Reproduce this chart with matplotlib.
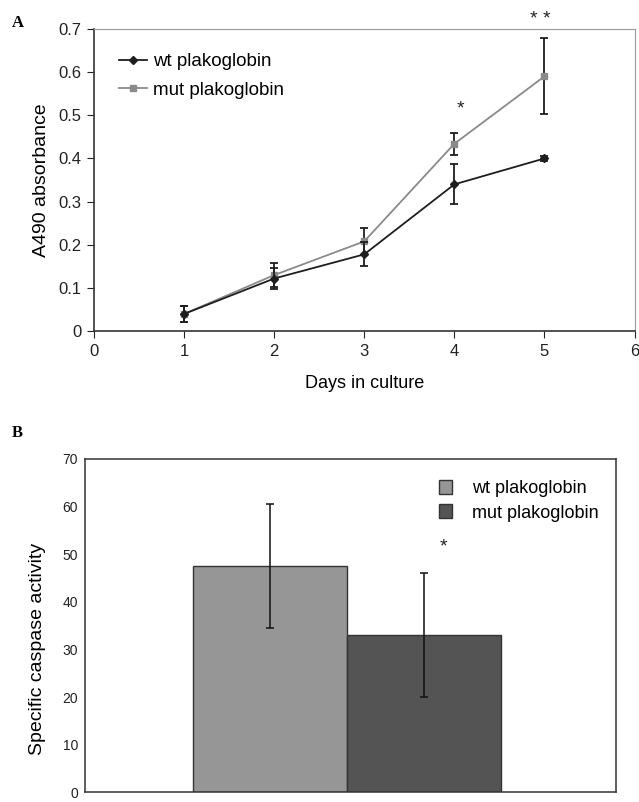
import numpy as np
import matplotlib
matplotlib.use("Agg")
import matplotlib.pyplot as plt
from matplotlib.lines import Line2D
from matplotlib.patches import Patch

plt.rcParams['font.family'] = ['Liberation Sans', 'DejaVu Sans']

# Panel A: growth curve
days = [1, 2, 3, 4, 5]
wt_abs = [0.040, 0.122, 0.178, 0.340, 0.400]
wt_err = [0.018, 0.025, 0.028, 0.046, 0.006]
mut_abs = [0.040, 0.130, 0.208, 0.434, 0.590]
mut_err = [0.018, 0.028, 0.032, 0.025, 0.088]
star_pos = [(4.07, 0.515, "*"), (4.95, 0.722, "* *")]

# Panel B: caspase activity
groups = ["wt plakoglobin", "mut plakoglobin"]
caspase = [47.5, 33.0]
caspase_err = [13.0, 13.0]
bar_colors = ["#969696", "#545454"]

fig = plt.figure(figsize=(6.39, 8.02), dpi=100)

# ---- Panel A ----
ax = fig.add_axes([0.147, 0.587, 0.846, 0.377])
ax.errorbar(days, wt_abs, yerr=wt_err, color="#1e1e1e", marker="D", markersize=4,
            lw=1.3, ecolor="#1e1e1e", elinewidth=1.3, capsize=3, capthick=1.3,
            label="wt plakoglobin", zorder=3)
ax.errorbar(days, mut_abs, yerr=mut_err, color="#8a8a8a", marker="s", markersize=5,
            lw=1.3, ecolor="#1e1e1e", elinewidth=1.3, capsize=3, capthick=1.3,
            label="mut plakoglobin", zorder=2)
for x, y, s in star_pos:
    ax.text(x, y, s, ha="center", va="center", fontsize=14, color="#222222")
ax.set_xlim(0, 6)
ax.set_ylim(0, 0.7)
ax.set_xticks(range(7))
ax.set_yticks(np.arange(0, 0.71, 0.1))
ax.set_yticklabels(["0", "0.1", "0.2", "0.3", "0.4", "0.5", "0.6", "0.7"])
ax.tick_params(direction="out", length=5, labelsize=12, colors="#222222", pad=4)
for s in ["top", "right"]:
    ax.spines[s].set_color("#999999")
for s in ["left", "bottom"]:
    ax.spines[s].set_color("#333333")
    ax.spines[s].set_linewidth(1.2)
ax.set_xlabel("Days in culture", fontsize=13, labelpad=12)
ax.set_ylabel("A490 absorbance", fontsize=14, labelpad=6)
handles = [Line2D([], [], color="#1e1e1e", marker="D", markersize=4, lw=1.3),
           Line2D([], [], color="#8a8a8a", marker="s", markersize=5, lw=1.3)]
ax.legend(handles, ["wt plakoglobin", "mut plakoglobin"], loc="upper left",
          bbox_to_anchor=(0.015, 0.975), frameon=False, fontsize=13.5,
          handlelength=1.5, handletextpad=0.3, labelspacing=0.6)
fig.text(0.019, 0.971, "A", family="Liberation Serif", fontweight="bold",
         fontsize=12, va="center")

# ---- Panel B ----
bx = fig.add_axes([0.133, 0.012, 0.831, 0.416])
xpos = [0, 1]
bx.bar(xpos, caspase, width=1.0, color=bar_colors, edgecolor="#333333", linewidth=1.0)
bx.errorbar(xpos, caspase, yerr=caspase_err, fmt="none", ecolor="#111111",
            elinewidth=1.1, capsize=3, capthick=1.1)
bx.text(1.126, 51.5, "*", ha="center", va="center", fontsize=14, color="#222222")
bx.set_xlim(-1.2, 2.25)
bx.set_ylim(0, 70)
bx.set_yticks(range(0, 71, 10))
bx.set_xticks([])
bx.tick_params(axis="y", length=0, labelsize=10, colors="#222222", pad=5)
for s in bx.spines.values():
    s.set_color("#333333")
    s.set_linewidth(1.1)
bx.set_ylabel("Specific caspase activity", fontsize=14)
bx.yaxis.set_label_coords(-0.074, 0.43)
leg_handles = [Patch(facecolor=c, edgecolor="#333333") for c in bar_colors]
bx.legend(leg_handles, groups, loc="upper left", bbox_to_anchor=(0.637, 0.985),
          frameon=False, fontsize=13, handlelength=0.7, handleheight=0.8,
          handletextpad=1.1, labelspacing=0.4)
fig.text(0.019, 0.460, "B", family="Liberation Serif", fontweight="bold",
         fontsize=12, va="center")

fig.savefig("out.png", dpi=100)
